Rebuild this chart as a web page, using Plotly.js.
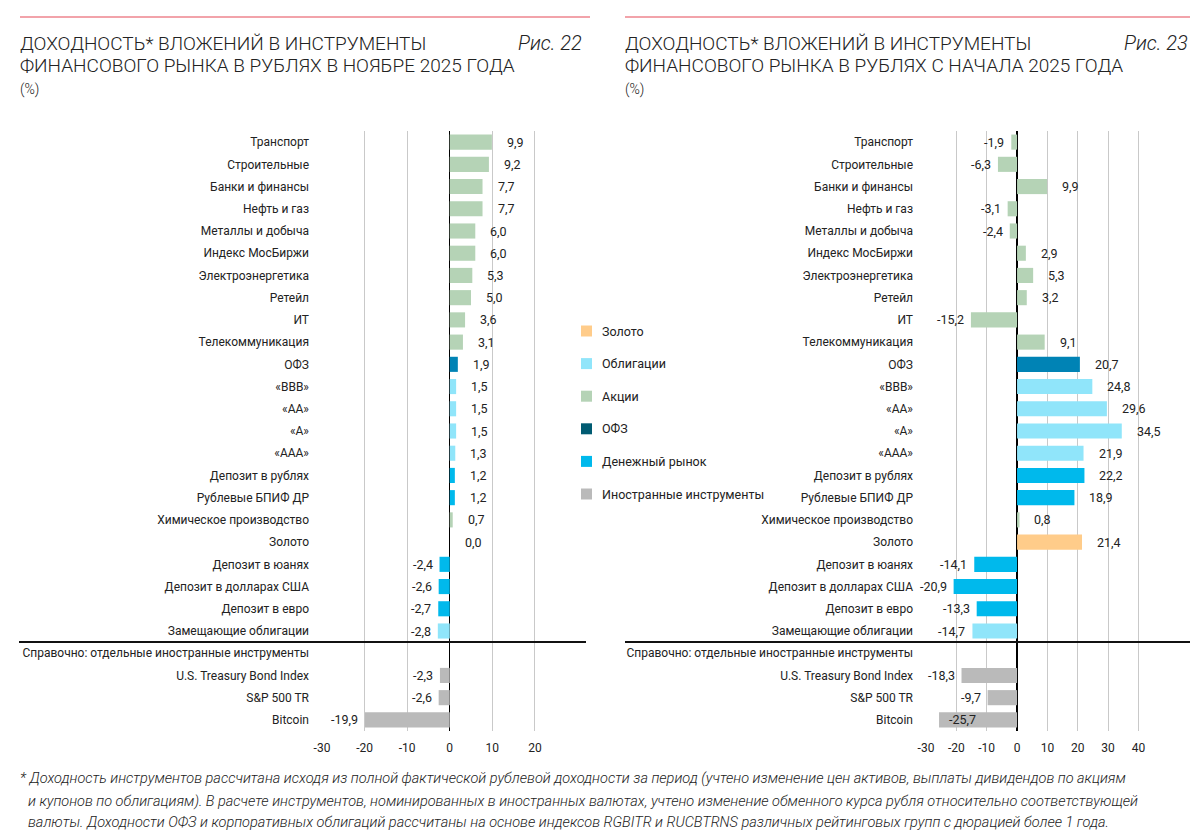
<!DOCTYPE html>
<html><head><meta charset="utf-8">
<script src="https://cdn.plot.ly/plotly-3.0.1.min.js"></script>
<style>html,body{margin:0;padding:0;background:#fff;}#chart{width:1200px;height:834px;}</style>
</head><body><div id="chart"></div>
<script>
// ---- DATA ----
const categories = ["Транспорт","Строительные","Банки и финансы","Нефть и газ","Металлы и добыча","Индекс МосБиржи","Электроэнергетика","Ретейл","ИТ","Телекоммуникация","ОФЗ","«BBB»","«AA»","«A»","«AAA»","Депозит в рублях","Рублевые БПИФ ДР","Химическое производство","Золото","Депозит в юанях","Депозит в долларах США","Депозит в евро","Замещающие облигации","Справочно: отдельные иностранные инструменты","U.S. Treasury Bond Index","S&P 500 TR","Bitcoin"];
const groups = ["stock","stock","stock","stock","stock","stock","stock","stock","stock","stock","ofz","bond","bond","bond","bond","money","money","stock","gold","money","money","money","bond",null,"foreign","foreign","foreign"];
const novValues = [9.9,9.2,7.7,7.7,6.0,6.0,5.3,5.0,3.6,3.1,1.9,1.5,1.5,1.5,1.3,1.2,1.2,0.7,0.0,-2.4,-2.6,-2.7,-2.8,null,-2.3,-2.6,-19.9];
const ytdValues = [-1.9,-6.3,9.9,-3.1,-2.4,2.9,5.3,3.2,-15.2,9.1,20.7,24.8,29.6,34.5,21.9,22.2,18.9,0.8,21.4,-14.1,-20.9,-13.3,-14.7,null,-18.3,-9.7,-25.7];
const legendKeys = ["gold","bond","stock","ofzLegend","money","foreign"];
const legendNames = ["Золото","Облигации","Акции","ОФЗ","Денежный рынок","Иностранные инструменты"];
const leftTicks = [-30,-20,-10,0,10,20];
const rightTicks = [-30,-20,-10,0,10,20,30,40];

// ---- STYLE ----
const colors = {stock:"#B5D3B6", ofz:"#0083B5", ofzLegend:"#005B72", bond:"#90E5FA", money:"#00B9EC", gold:"#FFCC8A", foreign:"#BABABA"};
const W = 1200, H = 834;
const px = v => v / W, py = v => 1 - v / H;
const tickFont = {family:"Roboto, sans-serif", size:12, color:"#222"};
const titleFont = {family:"Roboto, sans-serif", size:19, color:"#222", weight:300};

const barColors = groups.map(g => g ? colors[g] : "rgba(0,0,0,0)");
function fmt(v){ return v.toFixed(1).replace(".", ","); }

function makeBar(values, xa, ya){
  return {type:"bar", orientation:"h", x:values, y:categories, xaxis:xa, yaxis:ya,
    marker:{color:barColors, line:{width:0}}, width:0.68, hoverinfo:"skip", showlegend:false};
}
function labelAnns(values, xa, ya, xmin){
  const out = [];
  values.forEach((v,i) => {
    if (v === null) return;
    let anchor, shift;
    if (v >= 0){ anchor = "left"; shift = 13; }
    else if (v - xmin < 8){ anchor = "left"; shift = 8; }
    else { anchor = "right"; shift = -5; }
    out.push({x:v, y:categories[i], xref:xa, yref:ya, text:fmt(v), showarrow:false,
      xanchor:anchor, xshift:shift, font:{family:"Roboto, sans-serif", size:12.5, color:"#222"}});
  });
  return out;
}

const yTop = 131, yBot = 731;
const axisCommon = {showline:false, zeroline:true, zerolinecolor:"#000", zerolinewidth:1.5,
  showgrid:true, gridcolor:"#C9C9C9", gridwidth:1, tickfont:tickFont, ticks:"", fixedrange:true,
  ticklabelstandoff:8};
const yCommon = {type:"category", categoryorder:"array", categoryarray:categories, autorange:"reversed",
  showgrid:false, zeroline:false, showline:false, ticks:"", tickfont:tickFont, ticklabelstandoff:12,
  domain:[py(yBot), py(yTop)], fixedrange:true};

const layout = {
  width:W, height:H, margin:{l:0,r:0,t:0,b:0}, paper_bgcolor:"#fff", plot_bgcolor:"rgba(0,0,0,0)",
  barmode:"overlay", showlegend:false,
  xaxis: Object.assign({}, axisCommon, {domain:[px(322), px(586)], range:[-30,32], tickvals:leftTicks, ticktext:leftTicks.map(String), anchor:"y"}),
  yaxis: Object.assign({}, yCommon, {anchor:"x"}),
  xaxis2: Object.assign({}, axisCommon, {domain:[px(926), px(1184)], range:[-30,55], tickvals:rightTicks, ticktext:rightTicks.map(String), anchor:"y2"}),
  yaxis2: Object.assign({}, yCommon, {anchor:"x2"}),
  shapes:[
    {type:"line", xref:"paper", yref:"paper", x0:px(20), x1:px(590), y0:py(17), y1:py(17), line:{color:"#F2A3AA", width:2}},
    {type:"line", xref:"paper", yref:"paper", x0:px(625), x1:px(1190), y0:py(17), y1:py(17), line:{color:"#F2A3AA", width:2}},
    {type:"line", xref:"paper", yref:"y", x0:px(19), x1:px(586), y0:22.5, y1:22.5, line:{color:"#111", width:2}},
    {type:"line", xref:"paper", yref:"y2", x0:px(625), x1:px(1190), y0:22.5, y1:22.5, line:{color:"#111", width:2}}
  ],
  annotations:[]
};

// titles
const A = layout.annotations;
function txt(x,y,text,font,anchor){ A.push({xref:"paper", yref:"paper", x:px(x), y:py(y), text:text, showarrow:false, xanchor:anchor||"left", yanchor:"middle", font:font, align:"left"}); }
txt(18, 43, "ДОХОДНОСТЬ* ВЛОЖЕНИЙ В ИНСТРУМЕНТЫ", titleFont);
txt(18, 66, "ФИНАНСОВОГО РЫНКА В РУБЛЯХ В НОЯБРЕ 2025 ГОДА", titleFont);
txt(18, 89, "(%)", {family:"Roboto, sans-serif", size:14, color:"#222", weight:300});
txt(584, 43, "<i>Рис. 22</i>", {family:"Roboto, sans-serif", size:20, color:"#222", weight:300}, "right");
txt(623, 43, "ДОХОДНОСТЬ* ВЛОЖЕНИЙ В ИНСТРУМЕНТЫ", titleFont);
txt(623, 66, "ФИНАНСОВОГО РЫНКА В РУБЛЯХ С НАЧАЛА 2025 ГОДА", titleFont);
txt(623, 89, "(%)", {family:"Roboto, sans-serif", size:14, color:"#222", weight:300});
txt(1190, 43, "<i>Рис. 23</i>", {family:"Roboto, sans-serif", size:20, color:"#222", weight:300}, "right");

// legend
legendKeys.forEach((k,i) => {
  const yc = 331 + i*32.6;
  layout.shapes.push({type:"rect", xref:"paper", yref:"paper", x0:px(581), x1:px(592), y0:py(yc+5.5), y1:py(yc-5.5), fillcolor:colors[k], line:{width:0}});
  txt(600, yc, legendNames[i], {family:"Roboto, sans-serif", size:12.5, color:"#222"});
});

// footnote
const footFont = {family:"Roboto, sans-serif", size:14.5, color:"#222", style:"italic", weight:300};
txt(18, 778, "* Доходность инструментов рассчитана исходя из полной фактической рублевой доходности за период (учтено изменение цен активов, выплаты дивидендов по акциям", footFont);
txt(26, 801, "и купонов по облигациям). В расчете инструментов, номинированных в иностранных валютах, учтено изменение обменного курса рубля относительно соответствующей", footFont);
txt(26, 822, "валюты. Доходности ОФЗ и корпоративных облигаций рассчитаны на основе индексов RGBITR и RUCBTRNS различных рейтинговых групп с дюрацией более 1 года.", footFont);

layout.annotations = A.concat(labelAnns(novValues, "x", "y", -30), labelAnns(ytdValues, "x2", "y2", -30));

Plotly.newPlot("chart", [makeBar(novValues,"x","y"), makeBar(ytdValues,"x2","y2")], layout, {staticPlot:true, displayModeBar:false});
</script></body></html>
